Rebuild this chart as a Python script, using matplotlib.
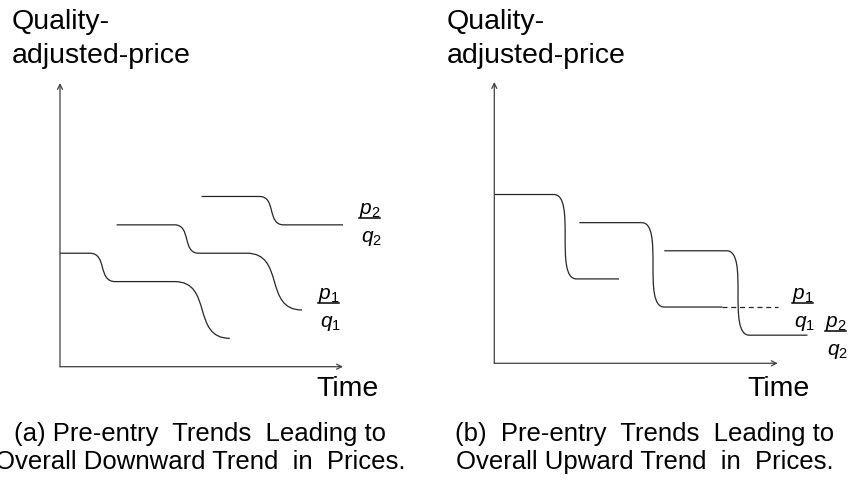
import matplotlib
matplotlib.use("Agg")
import matplotlib.pyplot as plt
from matplotlib.path import Path
from matplotlib.patches import PathPatch

plt.rcParams['font.family'] = ['Liberation Sans', 'DejaVu Sans']
plt.rcParams['mathtext.fontset'] = 'custom'
plt.rcParams['mathtext.rm'] = 'Liberation Sans'
plt.rcParams['mathtext.it'] = 'Liberation Sans:italic'

# (a) tendencia a la baja: tiempos de quiebre y niveles de precio de cada trayectoria
a1_t = [0.0, 1.05, 1.95, 4.05, 6.0]
a1_p = [4, 4, 3, 3, 1]
a2_t = [2.0, 4.05, 4.9, 6.6, 8.55]
a2_p = [5, 5, 4, 4, 2]
a3_t = [5.0, 7.05, 7.9, 10.0]
a3_p = [6, 6, 5, 5]

# (b) tendencia al alza
b1_t = [0.0, 2.1, 2.9, 4.4]
b1_p = [6, 6, 3, 3]
b2_t = [3.0, 5.2, 6.0, 8.05]
b2_p = [5, 5, 2, 2]
b2_ext_t = [8.05, 10.0]       # tramo punteado
b2_ext_p = [2, 2]
b3_t = [6.0, 8.2, 9.0, 11.05]
b3_p = [4, 4, 1, 1]

etiqueta_y = ["Quality-", "adjusted-price"]
etiqueta_x = "Time"
titulo_a = ["(a) Pre-entry  Trends  Leading to", "Overall Downward Trend  in  Prices."]
titulo_b = ["(b)  Pre-entry  Trends  Leading to", "Overall Upward Trend  in  Prices."]

W, H = 849, 480
COLOR = '#262626'


def fx(x):
    return x / W


def fy(y):
    return 1 - y / H


def trayectoria(t, p, k):
    # tramos planos en linea recta, caidas como curva suave
    verts = [(t[0], p[0])]
    codes = [Path.MOVETO]
    for i in range(1, len(t)):
        t0, p0, t1, p1 = t[i - 1], p[i - 1], t[i], p[i]
        if p0 == p1:
            verts.append((t1, p1))
            codes.append(Path.LINETO)
        else:
            w = t1 - t0
            verts += [(t0 + k * w, p0), (t1 - k * w, p1), (t1, p1)]
            codes += [Path.CURVE4] * 3
    return Path(verts, codes)


def ejes(ax):
    ax.set_xlim(0, 10)
    ax.set_ylim(0, 10)
    ax.axis('off')
    flecha = dict(arrowstyle='->', lw=0.9, color='#404040',
                  shrinkA=0, shrinkB=0, mutation_scale=9)
    ax.annotate('', xy=(0, 10), xytext=(0, 0), arrowprops=flecha)
    ax.annotate('', xy=(10, 0), xytext=(0, 0), arrowprops=flecha)


def fraccion(fig, x, y, sub):
    # p_i / q_i con barra
    fig.text(fx(x), fy(y), rf'$p_{sub}$', fontsize=15, va='baseline', color='black')
    fig.text(fx(x + 2), fy(y + 28), rf'$q_{sub}$', fontsize=15, va='baseline', color='black')
    fig.add_artist(plt.Line2D([fx(x), fx(x + 21)], [fy(y + 4), fy(y + 4)],
                              lw=1.1, color='black'))


def graficar():
    fig = plt.figure(figsize=(W / 100, H / 100), dpi=100)

    ax_a = fig.add_axes([fx(60), fy(366.7), fx(283), 283.7 / H])
    ax_b = fig.add_axes([fx(494.3), fy(363.3), fx(283.4), 281.3 / H])

    ejes(ax_a)
    ejes(ax_b)

    for t, p in [(a1_t, a1_p), (a2_t, a2_p), (a3_t, a3_p)]:
        ax_a.add_patch(PathPatch(trayectoria(t, p, 0.7), fill=False,
                                 ec=COLOR, lw=0.9, clip_on=False))
    for t, p in [(b1_t, b1_p), (b2_t, b2_p), (b3_t, b3_p)]:
        ax_b.add_patch(PathPatch(trayectoria(t, p, 1.0), fill=False,
                                 ec=COLOR, lw=0.9, clip_on=False))
    ax_b.plot(b2_ext_t, b2_ext_p, color=COLOR, lw=0.9, ls=(0, (4, 3)), clip_on=False)

    # etiquetas de los ejes
    for x0, xt in [(12, 316), (447, 747)]:
        fig.text(fx(x0), fy(29), etiqueta_y[0], fontsize=20.5, va='baseline')
        fig.text(fx(x0), fy(63), etiqueta_y[1], fontsize=20.5, va='baseline')
        fig.text(fx(xt), fy(396), etiqueta_x, fontsize=20.5, va='baseline')

    fraccion(fig, 318, 299, 1)
    fraccion(fig, 359, 214, 2)
    fraccion(fig, 792, 299, 1)
    fraccion(fig, 825, 327, 2)

    # pies de figura
    for xc, lineas in [(200, titulo_a), (645, titulo_b)]:
        fig.text(fx(xc), fy(441), lineas[0], fontsize=18.5, ha='center', va='baseline')
        fig.text(fx(xc), fy(469), lineas[1], fontsize=18.5, ha='center', va='baseline')

    fig.savefig("out.png", dpi=100)


if __name__ == "__main__":
    graficar()
